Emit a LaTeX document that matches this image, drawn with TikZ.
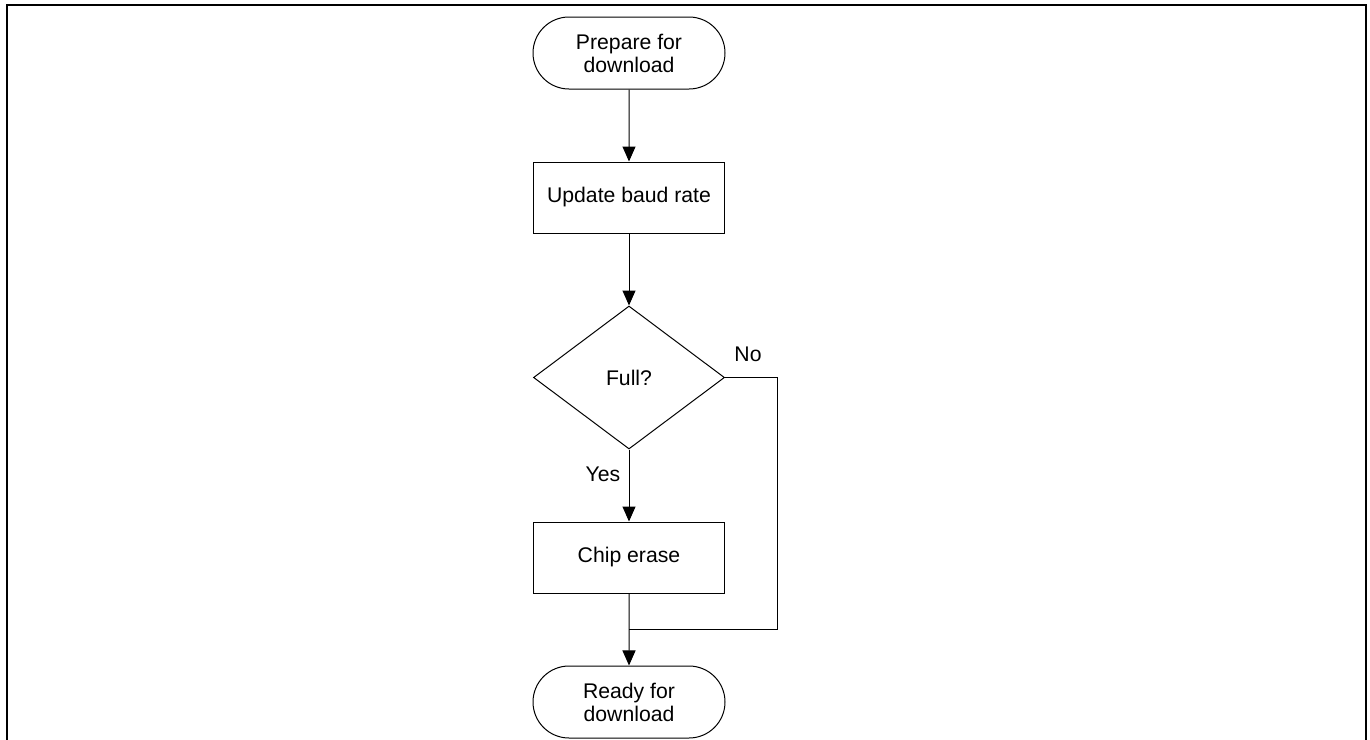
\documentclass[tikz,border=0pt]{standalone}
\usepackage{fontspec}
\setmainfont{Liberation Sans}
\usetikzlibrary{positioning,shapes.geometric,shapes.misc,arrows.meta}

\begin{document}
\begin{tikzpicture}[x=0.5pt,y=-0.5pt,
	every node/.style={font=\fontsize{10.6}{11.5}\selectfont,align=center},
	term/.style={rounded rectangle,draw,line width=0.5pt,minimum width=96pt,minimum height=36pt,inner sep=0pt},
	proc/.style={rectangle,draw,line width=0.5pt,minimum width=95.5pt,minimum height=35.5pt,inner sep=0pt},
	dec/.style={diamond,draw,line width=0.5pt,minimum width=95.5pt,minimum height=71.5pt,inner sep=0pt},
	lbl/.style={inner sep=0pt},
	flow/.style={line width=0.5pt,-{Triangle[length=7.5pt,width=6.5pt]}},
	node distance = 36pt]
	\useasboundingbox (0,0) rectangle (1370,739);
	\draw[line width=1pt] (7,745) -- (7,5) -- (1366,5) -- (1366,745);
	\node[term] (prep) at (629,53) {Prepare for\\download};
	\node[proc] (baud)[below = of prep]{Update baud rate};
	\node[dec] (full)[below = of baud]{Full?};
	\node[proc] (erase)[below = of full]{Chip erase};
	\node[term] (ready)[below = of erase]{Ready for\\download};
	\coordinate (join) at ([yshift=-18pt]erase.south);
	\node[lbl] (yes) at ([xshift=-13pt,yshift=-12.5pt]full.south) {Yes};
	\node[lbl] (no) at ([xshift=11.5pt,yshift=11.5pt]full.east) {No};
	\draw[flow] (prep) -- (baud);
	\draw[flow] (baud) -- (full);
	\draw[flow] (full) -- (erase);
	\draw[flow] (erase) -- (ready);
	\draw[line width=0.5pt] (full.east) -- ++(52,0) |- (join);
\end{tikzpicture}
\end{document}
